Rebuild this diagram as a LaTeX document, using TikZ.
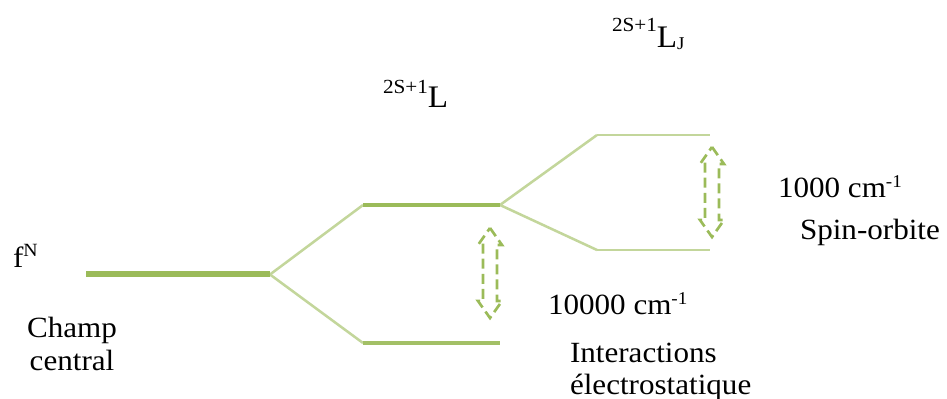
\documentclass[tikz,border=0pt]{standalone}
\usepackage{fontspec}
\setmainfont[FakeStretch=1.06]{Liberation Serif}
\definecolor{gdark}{HTML}{9BBB59}
\definecolor{glight}{HTML}{C3D69B}
\newcommand\myUDArrow[4]{% name, cx, ytop, shaft length
  \draw[dasharr] (#2,#3) coordinate (#1) -- ++(12,17) -- ++(-5,0) -- ++(0,#4) -- ++(5,0) -- ++(-12,17) -- ++(-12,-17) -- ++(5,0) -- ++(0,-#4) -- ++(-5,0) -- cycle;}
\newcommand\supsz[1]{{\fontsize{13.5}{13}\selectfont #1}}
\newcommand\bigsup[1]{{\fontsize{15}{15}\selectfont #1}}
\begin{document}
\begin{tikzpicture}[x=0.75pt,y=-0.75pt,
  lbl/.style={inner sep=0pt,outer sep=0pt,anchor=base west,font=\fontsize{22}{24}\selectfont},
  thickbar/.style={draw=gdark,line width=4.5pt},
  level/.style={draw=gdark,line width=2.5pt},
  midlvl/.style={draw=gdark!92!white,line width=2.4pt},
  lightlvl/.style={draw=glight,line width=1.9pt},
  dasharr/.style={draw=gdark,line width=2pt,dash pattern=on 7.5pt off 3.8pt,line join=miter}]
\useasboundingbox (0,0) rectangle (947,399);
\clip (0,0) rectangle (947,399);
% level coordinates
\coordinate (f0) at (86,274.5);
\coordinate (f1) at (270,274.5);
\coordinate (u0) at (363,205);
\coordinate (u1) at (500,205);
\coordinate (d0) at (363,343);
\coordinate (d1) at (500,343);
\coordinate (j10) at (597,135);
\coordinate (j11) at (710,135);
\coordinate (j20) at (597,250);
\coordinate (j21) at (710,250);
% lines
\draw[lightlvl] (f1) -- (u0);
\draw[lightlvl] (f1) -- (d0);
\draw[lightlvl] (u1) -- (j10);
\draw[lightlvl] (u1) -- (j20);
\draw[thickbar] (f0) -- (f1);
\draw[level] (u0) -- (u1);
\draw[midlvl] (d0) -- (d1);
\draw[lightlvl] (j10) -- (j11);
\draw[lightlvl] (j20) -- (j21);
% dashed double arrows
\myUDArrow{a1}{490}{228}{56}
\myUDArrow{a2}{712}{147}{56}
% labels
\node[lbl] (fN) at (13,268) {f\raisebox{8.5pt}{{\fontsize{14}{14}\selectfont N}}};
\node[lbl,anchor=base,align=center,font=\fontsize{22}{24.75}\selectfont] (champ) at (72,370) {Champ\\central};
\node[lbl] (L) at (383,108) {\raisebox{10.5pt}{\bigsup{2S+1}}{\fontsize{23.5}{23}\selectfont L}};
\node[lbl] (LJ) at (612,48) {\raisebox{12pt}{\bigsup{2S+1}}{\fontsize{23.5}{23}\selectfont L}\raisebox{-1.5pt}{\supsz{J}}};
\node[lbl] (e1) at (548,315) {10000 cm\raisebox{7.5pt}{\supsz{-1}}};
\node[lbl,align=left,font=\fontsize{22}{24}\selectfont] (e2) at (570,394) {Interactions\\électrostatique};
\node[lbl] (s1) at (778,198) {1000 cm\raisebox{7.5pt}{\supsz{-1}}};
\node[lbl] (s2) at (800,240) {Spin-orbite};
\end{tikzpicture}
\end{document}
